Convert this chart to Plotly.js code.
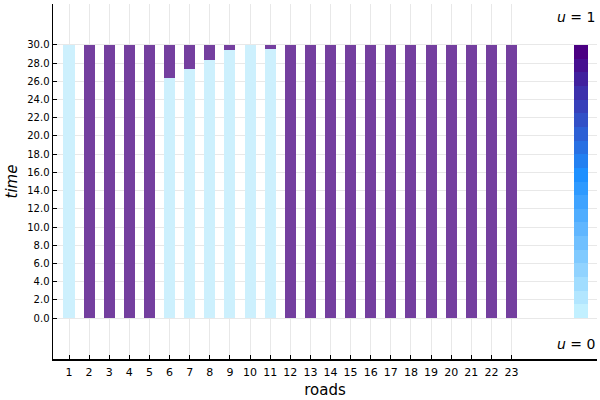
<!DOCTYPE html>
<html>
<head>
<meta charset="utf-8">
<script src="https://cdn.plot.ly/plotly-3.0.1.min.js"></script>
<style>html,body{margin:0;padding:0;background:#fff;}#chart{width:600px;height:400px;}</style>
</head>
<body>
<div id="chart"></div>
<script>
// Data
var roads = [1,2,3,4,5,6,7,8,9,10,11,12,13,14,15,16,17,18,19,20,21,22,23];
var timeU0 = [30,0,0,0,0,26.4,27.4,28.4,29.4,30,29.6,0,0,0,0,0,0,0,0,0,0,0,0];
var timeU1 = [0,30,30,30,30,3.6,2.6,1.6,0.6,0,0.4,30,30,30,30,30,30,30,30,30,30,30,30];
var tickLabelsY = ["0.0","2.0","4.0","6.0","8.0","10.0","12.0","14.0","16.0","18.0","20.0","22.0","24.0","26.0","28.0","30.0"];
var tickValsY = [0,2,4,6,8,10,12,14,16,18,20,22,24,26,28,30];
// colour legend strip: 20 levels from u=0 (bottom) to u=1 (top)
var cbarBase = [0,1.5,3,4.5,6,7.5,9,10.5,12,13.5,15,16.5,18,19.5,21,22.5,24,25.5,27,28.5];
var cbarStep = [1.5,1.5,1.5,1.5,1.5,1.5,1.5,1.5,1.5,1.5,1.5,1.5,1.5,1.5,1.5,1.5,1.5,1.5,1.5,1.5];
var cbarX = 26.46;

function hex2rgb(h){return [parseInt(h.substr(1,2),16),parseInt(h.substr(3,2),16),parseInt(h.substr(5,2),16)];}
function mix(a,b,t){var A=hex2rgb(a),B=hex2rgb(b);return 'rgb('+[0,1,2].map(function(i){return Math.round(A[i]+(B[i]-A[i])*t);}).join(',')+')';}
var cbarColors = cbarBase.map(function(_,i){
  var t = i/19;
  if (t <= 10/19) return mix('#c2f0ff','#1e90ff', t/(10/19));
  return mix('#1e90ff','#4b0082',(t-10/19)/(9/19));
});

var traces = [
  {type:'bar', x:roads, y:timeU0, width:0.55, marker:{color:'#cdf0fd', line:{width:0}}, hoverinfo:'skip', showlegend:false},
  {type:'bar', x:roads, y:timeU1, base:timeU0, width:0.55, marker:{color:'#743f9f', line:{width:0}}, hoverinfo:'skip', showlegend:false},
  {type:'bar', x:cbarBase.map(function(){return cbarX;}), y:cbarStep, base:cbarBase, width:0.7, marker:{color:cbarColors, line:{width:0}}, hoverinfo:'skip', showlegend:false}
];

var layout = {
  width:600, height:400,
  margin:{l:53, r:3, t:4, b:41},
  paper_bgcolor:'#fff', plot_bgcolor:'#fff',
  barmode:'overlay', bargap:0,
  font:{family:'DejaVu Sans', size:11, color:'#000'},
  xaxis:{
    range:[0.204, 27.25], tickmode:'array', tickvals:roads, ticktext:roads.map(String),
    showgrid:true, gridcolor:'#e8e8e8', gridwidth:1, zeroline:false,
    showline:true, linecolor:'#000', linewidth:1.5, mirror:false,
    ticks:'inside', ticklen:4, tickcolor:'#000', ticklabelstandoff:2,
    tickfont:{family:'DejaVu Sans', size:11, color:'#000'},
    title:{text:'roads', font:{family:'DejaVu Sans', size:15, color:'#000'}, standoff:7}
  },
  yaxis:{
    range:[-4.5, 34.5], tickmode:'array', tickvals:tickValsY, ticktext:tickLabelsY,
    showgrid:true, gridcolor:'#e8e8e8', gridwidth:1, zeroline:false,
    showline:true, linecolor:'#000', linewidth:1.5, mirror:false,
    ticks:'inside', ticklen:4, tickcolor:'#000', tickfont:{family:'DejaVu Sans', size:10, color:'#000'},
    title:{text:'<i>time</i>', font:{family:'DejaVu Sans', size:15, color:'#000'}, standoff:6}
  },
  annotations:[
    {xref:'paper', yref:'y', x:1, y:33.1, xanchor:'right', yanchor:'middle', showarrow:false,
     text:'<i>u</i> = 1', font:{family:'DejaVu Sans', size:14, color:'#000'}},
    {xref:'paper', yref:'y', x:1, y:-2.8, xanchor:'right', yanchor:'middle', showarrow:false,
     text:'<i>u</i> = 0', font:{family:'DejaVu Sans', size:14, color:'#000'}}
  ]
};
Plotly.newPlot('chart', traces, layout, {displayModeBar:false, staticPlot:true});
</script>
</body>
</html>
